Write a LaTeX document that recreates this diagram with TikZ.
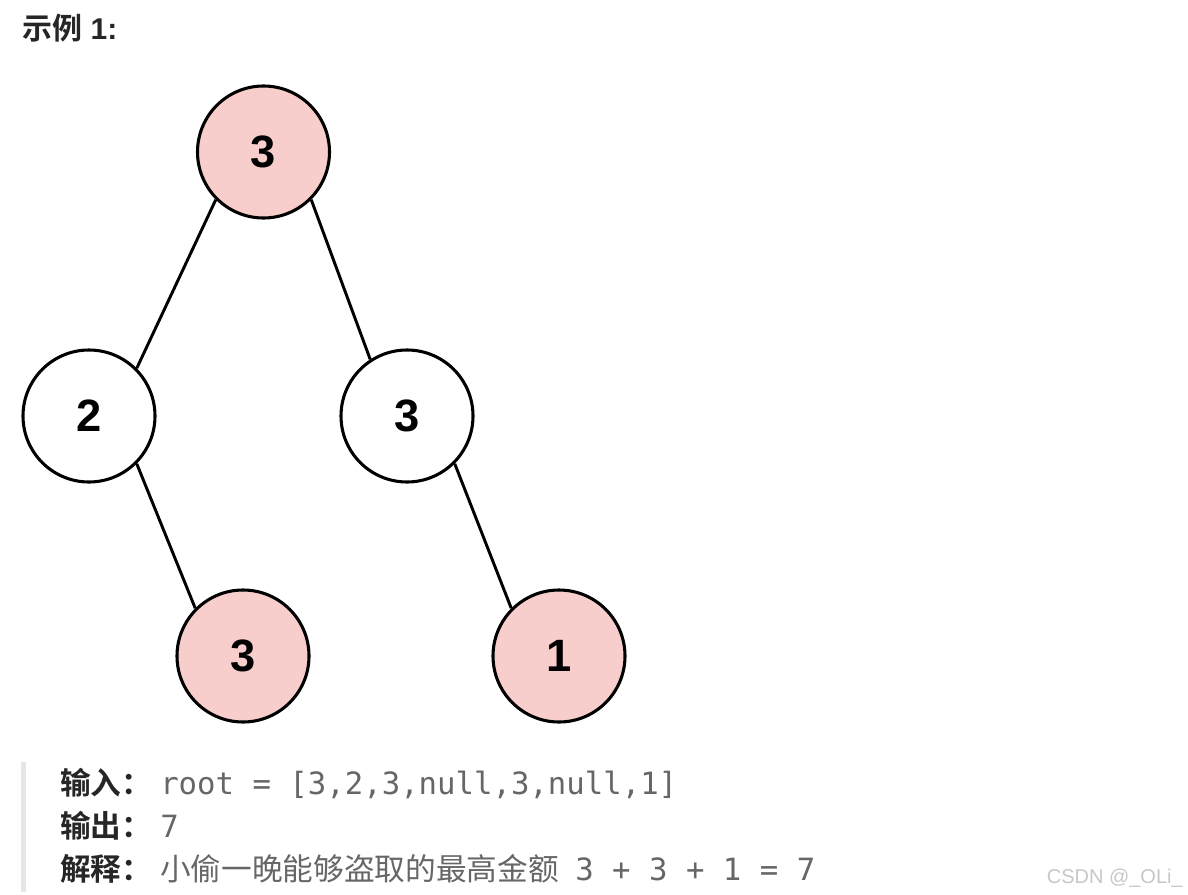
\documentclass[tikz,border=0pt]{standalone}
\usepackage{fontspec}
\setmainfont{Liberation Sans}
\setmonofont{DejaVu Sans Mono}
\newfontfamily\cjk{Noto Sans CJK SC}[BoldFont={Noto Sans CJK SC Bold}]
\usepackage{xcolor}
\usetikzlibrary{positioning}
\definecolor{robbed}{HTML}{F8CECC}
\definecolor{txtgray}{HTML}{666666}
\definecolor{bargray}{HTML}{E6E6E6}

\begin{document}
\begin{tikzpicture}[x=0.75pt,y=-0.75pt,line join=round,
    treenode/.style={circle,draw=black,line width=2.3pt,minimum size=99pt,inner sep=0pt,
      font=\fontsize{34}{34}\selectfont\bfseries},
    edge/.style={line width=2.2pt},
    label/.style={anchor=base west,inner sep=0pt,font=\fontsize{23}{23}\selectfont\cjk\bfseries,text=black!85},
    value/.style={anchor=base west,inner sep=0pt,font=\fontsize{23}{23}\selectfont\ttfamily,text=txtgray}]
  \useasboundingbox (0,0) rectangle (1188,895);
  % title
  \node[anchor=base west,inner sep=0pt,font=\fontsize{22.5}{22.5}\selectfont\bfseries,text=black!85]
    (title) at (22,40) {{\cjk 示例} 1:};
  % tree
  \node[treenode,fill=robbed] (root) at (263.5,152) {3};
  \node[treenode] (l) at (89,416) {2};
  \node[treenode] (r) at (407,416) {3};
  \node[treenode,fill=robbed] (lr) at (243,656) {3};
  \node[treenode,fill=robbed] (rr) at (559,656) {1};
  \draw[edge] (root.225) -- (l.45);
  \draw[edge] (root.315) -- (r.123);
  \draw[edge] (l.315) -- (lr.135);
  \draw[edge] (r.315) -- (rr.135);
  % example text
  \fill[bargray] (21,762) rectangle (26,892);
  \node[label] (in) at (60,794) {输入：};
  \node[value] (inv) at (160,794) {root = [3,2,3,null,3,null,1]};
  \node[label] (out) at (60,837) {输出：};
  \node[value] (outv) at (160,837) {7};
  \node[label] (expl) at (60,880) {解释：};
  \node[value,font=\fontsize{23}{23}\selectfont\cjk] (explv) at (160,880) {小偷一晚能够盗取的最高金额};
  \node[value] (sum) at (575,880) {3 + 3 + 1 = 7};
  \node[anchor=base east,inner sep=0pt,font=\fontsize{15}{15}\selectfont,text=black!22]
    (mark) at (1183,883) {CSDN @\_OLi\_};
\end{tikzpicture}
\end{document}
